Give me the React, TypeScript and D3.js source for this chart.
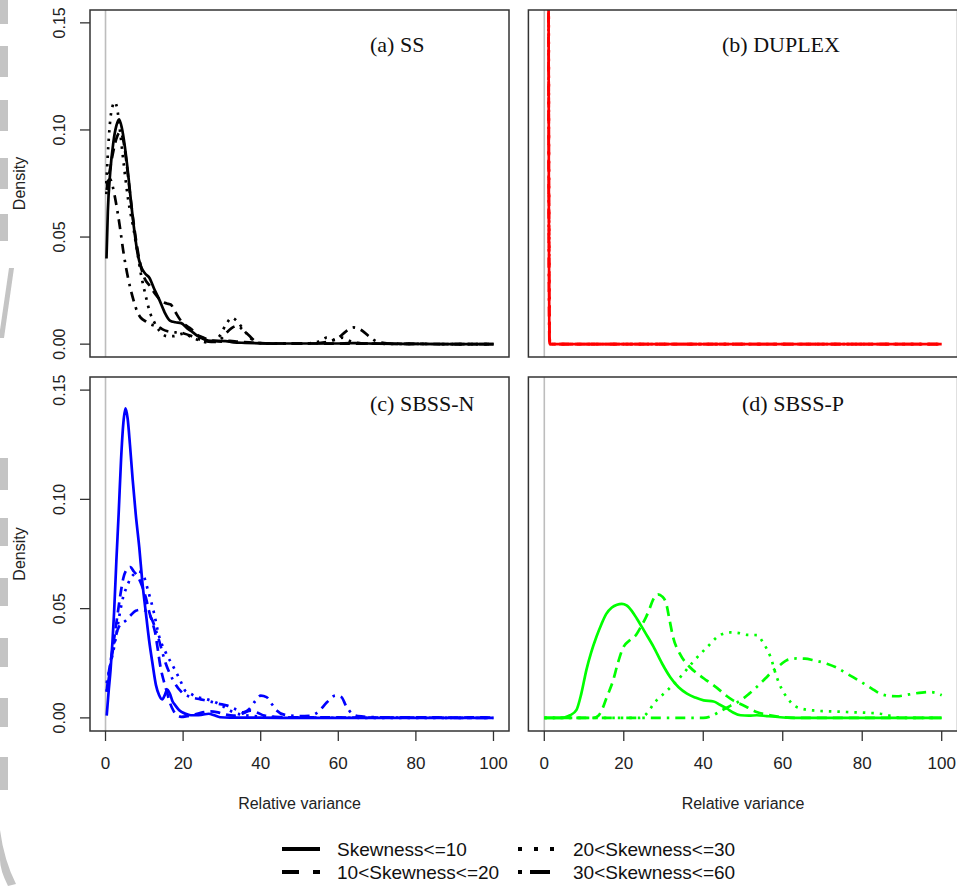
import { useEffect, useRef } from 'react';
import * as d3 from 'd3';

// Density of relative variance, four skewness groups per method

const xTicks = [0, 20, 40, 60, 80, 100];
const yTicks = [0, 0.05, 0.1, 0.15];
const yTickLabels = ['0.00', '0.05', '0.10', '0.15'];
const legendLabels = ['Skewness<=10', '10<Skewness<=20', '20<Skewness<=30', '30<Skewness<=60'];
const panelTitles = ['(a) SS', '(b) DUPLEX', '(c) SBSS-N', '(d) SBSS-P'];
const panelColors = ['#000000', '#ff0000', '#0000ff', '#00ff00'];

// (a) SS
const ssLe10 = [[0.25,0.040],[0.6,0.062],[1.2,0.080],[2,0.094],[2.8,0.102],[3.5,0.105],[4.2,0.101],[5,0.092],[5.8,0.080],[6.6,0.066],[7.5,0.052],[8.3,0.042],[9.2,0.036],[10.2,0.033],[11.3,0.031],[12.5,0.026],[13.8,0.021],[15.2,0.015],[16.6,0.011],[18,0.0102],[19.5,0.0098],[21,0.0075],[22.5,0.0055],[24,0.0035],[25.5,0.0022],[27,0.0015],[29,0.0015],[31,0.0014],[33,0.0008],[36,0.0006],[40,0.0004],[45,0.0003],[50,0.0003],[55,0.0003],[60,0.0003],[63,0.0005],[66,0.0004],[70,0.0002],[80,0.0001],[90,0],[100,0]];
const ss10to20 = [[0.3,0.072],[1,0.080],[2,0.090],[3,0.097],[3.8,0.099],[4.6,0.095],[5.4,0.085],[6.2,0.072],[7,0.060],[8,0.047],[9,0.037],[10,0.031],[11.5,0.027],[13,0.023],[14.5,0.020],[15.8,0.019],[16.8,0.0185],[18,0.015],[19.2,0.0115],[20.5,0.009],[22,0.0072],[23.5,0.0045],[25,0.0032],[26.5,0.002],[28,0.0015],[30,0.0012],[32,0.0015],[34,0.0012],[37,0.0008],[40,0.0005],[45,0.0003],[50,0.0003],[55,0.0003],[60,0.0002],[70,0.0002],[80,0.0001],[100,0]];
const ss20to30 = [[0.2,0.075],[0.7,0.092],[1.3,0.106],[1.8,0.111],[2.4,0.113],[3,0.110],[3.7,0.100],[4.7,0.084],[5.8,0.068],[7.3,0.053],[8.2,0.043],[9,0.034],[10.3,0.023],[11.6,0.014],[12.5,0.0105],[13.3,0.0078],[14.5,0.005],[15.9,0.0037],[17.6,0.0037],[19,0.0045],[20.2,0.005],[21.9,0.0035],[23.5,0.0022],[25,0.0012],[26.5,0.0008],[28,0.0015],[29.5,0.004],[31,0.009],[32.6,0.0123],[34,0.0105],[35.5,0.007],[37,0.0035],[38.5,0.0012],[40,0.0004],[45,0.0002],[50,0.0002],[55,0.0012],[57,0.003],[59,0.002],[61,0.003],[63,0.0015],[66,0.0004],[70,0.0002],[80,0.0001],[100,0]];
const ss30to60 = [[0.2,0.070],[0.6,0.076],[1.2,0.077],[1.8,0.074],[2.6,0.067],[3.6,0.056],[4.7,0.042],[5.8,0.031],[7.3,0.020],[8.2,0.015],[9,0.0125],[10.5,0.0105],[12,0.009],[13.3,0.0085],[14.6,0.007],[16,0.006],[18,0.0055],[20.2,0.005],[22.5,0.0035],[24.5,0.002],[26.5,0.0012],[28,0.001],[29.5,0.002],[31,0.005],[32.5,0.0075],[34,0.0085],[35.5,0.0065],[37,0.004],[38.5,0.0015],[40,0.0005],[45,0.0002],[50,0.0002],[55,0.0005],[58,0.0015],[60,0.003],[62,0.006],[64,0.0078],[66,0.0065],[68,0.0035],[70,0.0012],[73,0.0003],[80,0.0001],[100,0]];

// (b) DUPLEX
const dxLe10 = [[0.8,1.5],[0.95,0.5],[1.05,0.2],[1.15,0.06],[1.25,0.01],[1.35,0],[5,0],[100,0]];
const dx10to20 = [[0.85,1.4],[1.0,0.4],[1.1,0.15],[1.2,0.05],[1.3,0.008],[1.4,0],[5,0],[100,0]];
const dx20to30 = [[0.9,1.3],[1.05,0.35],[1.15,0.12],[1.25,0.04],[1.35,0.005],[1.45,0],[5,0],[100,0]];
const dx30to60 = [[0.75,1.6],[0.9,0.6],[1.0,0.25],[1.1,0.08],[1.2,0.015],[1.3,0],[5,0],[100,0]];

// (c) SBSS-N
const nLe10 = [[0.3,0.001],[0.8,0.012],[1.3,0.022],[1.8,0.035],[2.2,0.048],[2.8,0.072],[3.4,0.094],[4,0.118],[4.6,0.135],[5.15,0.1416],[5.7,0.137],[6.3,0.125],[7,0.109],[7.8,0.093],[8.7,0.078],[9.5,0.062],[10.4,0.048],[11.2,0.036],[12.1,0.025],[13,0.015],[13.8,0.0105],[14.6,0.0085],[15.3,0.0105],[15.9,0.013],[16.6,0.011],[17.3,0.0075],[18,0.0057],[19,0.0035],[20.6,0.0019],[22,0.0012],[23.5,0.0012],[25,0.0015],[26.6,0.0019],[28,0.0012],[29.5,0.0003],[32,0.0001],[40,0.0001],[50,0],[100,0]];
const n10to20 = [[0.3,0.012],[0.8,0.020],[1.5,0.028],[2.2,0.036],[3,0.046],[3.8,0.056],[4.6,0.064],[5.5,0.068],[6.4,0.069],[7.3,0.067],[8.2,0.065],[9.5,0.060],[10.4,0.055],[11.2,0.049],[12,0.044],[12.8,0.039],[13.5,0.031],[14.2,0.023],[15,0.017],[15.8,0.012],[16.5,0.0075],[17.6,0.003],[18.5,0.0012],[19.5,0.0005],[21,0.0008],[23,0.0015],[25,0.0025],[27,0.003],[29,0.0025],[31,0.0015],[33,0.001],[35,0.0018],[37.3,0.0033],[39,0.0025],[41,0.001],[45,0.0004],[50,0.0002],[60,0.0002],[70,0.0001],[82,0.0003],[90,0.0001],[97,0.0003],[100,0]];
const n20to30 = [[0.3,0.016],[1.2,0.024],[2.5,0.035],[3.5,0.046],[4.5,0.055],[5.5,0.060],[6.5,0.064],[7.5,0.066],[8.5,0.067],[9.8,0.065],[11,0.058],[12.5,0.048],[13.7,0.038],[15.5,0.030],[17.6,0.023],[19.3,0.017],[20.5,0.0125],[22,0.011],[23.6,0.0095],[25.5,0.0088],[27,0.0080],[28.5,0.007],[29.6,0.006],[31.5,0.004],[33,0.0025],[35,0.0015],[37.3,0.001],[40,0.0006],[45,0.0003],[50,0.0001],[100,0]];
const n30to60 = [[0.3,0.012],[1,0.020],[1.8,0.030],[2.6,0.037],[3.4,0.0415],[5.2,0.0445],[6.5,0.047],[7.8,0.049],[9,0.0495],[10.4,0.049],[12.1,0.0445],[13.7,0.036],[15.5,0.025],[17.5,0.017],[19.5,0.012],[22,0.0095],[24.5,0.0085],[27,0.0075],[29,0.0065],[31.4,0.0056],[33.5,0.004],[35.5,0.0025],[37,0.004],[38.5,0.0075],[40,0.0102],[41.5,0.0095],[43,0.006],[44.2,0.0033],[46,0.0015],[50,0.0008],[52.8,0.001],[55,0.003],[57,0.007],[59.3,0.0102],[60.8,0.0095],[62,0.0055],[63.5,0.002],[65,0.0008],[70,0.0003],[80,0.0001],[100,0]];

// (d) SBSS-P
const pLe10 = [[0,0],[4,0],[5.2,0.0003],[6.5,0.0012],[8.1,0.0037],[9.3,0.011],[10.6,0.022],[11.8,0.030],[13.1,0.037],[14.4,0.043],[15.6,0.0476],[17,0.0505],[18.3,0.0518],[19.5,0.0522],[20.7,0.0515],[22,0.049],[23.3,0.0454],[25.4,0.039],[27.5,0.0325],[29.6,0.025],[31.7,0.0186],[33.8,0.014],[35.9,0.0111],[38,0.0093],[40.1,0.008],[42.6,0.0075],[44.2,0.006],[46,0.0042],[47.5,0.0025],[49.4,0.0012],[51.5,0.001],[53.5,0.0012],[56,0.0008],[59.4,0.0003],[62,0],[100,0]];
const p10to20 = [[0,0],[12.5,0],[13.6,0.001],[14.7,0.0045],[15.7,0.0094],[17.3,0.017],[18.5,0.025],[19.8,0.032],[21.5,0.0355],[23.1,0.038],[24.4,0.042],[25.6,0.0461],[26.5,0.050],[27.3,0.0538],[28.6,0.0565],[29.7,0.0555],[30.7,0.0522],[31.5,0.045],[32.4,0.037],[34.1,0.0294],[36.6,0.0233],[38.7,0.020],[40.8,0.0172],[42.5,0.015],[44.2,0.0126],[45.9,0.010],[47.5,0.008],[49.2,0.0065],[50.9,0.005],[53.4,0.0027],[56.8,0.0012],[60,0.0003],[63,0],[100,0]];
const p20to30 = [[0,0],[24,0],[24.9,0.0005],[26.2,0.003],[27.5,0.0064],[30.9,0.0125],[34.2,0.0186],[37.6,0.026],[41,0.0324],[44.3,0.038],[46.8,0.0391],[49,0.0388],[51,0.038],[53.5,0.0379],[55.2,0.034],[56.9,0.028],[58.5,0.0186],[59.8,0.013],[61,0.0095],[63.5,0.005],[67.7,0.0034],[76.1,0.0027],[84.5,0.0019],[87,0.001],[88.6,0.0003],[90,0],[100,0]];
const p30to60 = [[0,0],[40,0],[42,0.0008],[44.3,0.0031],[46.8,0.0055],[49.4,0.008],[51.5,0.011],[53.5,0.0142],[55.6,0.018],[57.7,0.0218],[59.4,0.0243],[61,0.0264],[63.5,0.0272],[65.6,0.0271],[67.7,0.0264],[71.1,0.0248],[73.6,0.023],[76.1,0.0203],[78.3,0.018],[80.4,0.0157],[82.4,0.0134],[84.5,0.0111],[86.6,0.0101],[88.7,0.0099],[90.8,0.0104],[92.9,0.0111],[95,0.0116],[97.1,0.0118],[98.6,0.0114],[100,0.0104]];

const panelSeries = [
    [ssLe10, ss10to20, ss20to30, ss30to60],
    [dxLe10, dx10to20, dx20to30, dx30to60],
    [nLe10, n10to20, n20to30, n30to60],
    [pLe10, p10to20, p20to30, p30to60],
];

const dashes = ['none', '10 6', '2.5 6', '2.5 6 10 6'];
const legendDashes = ['none', '17 14', '4 12', '4 8 20 8'];

export default function App() {
    const svgRef = useRef(null);

    useEffect(() => {
        const svg = d3.select(svgRef.current);
        svg.selectAll('*').remove();

        const sans = "'Liberation Sans', Arial, sans-serif";
        const serif = "'Liberation Serif', 'Times New Roman', serif";

        // grey marks along the left edge of the scan
        const edge = [[0, 24], [46, 77], [100, 131], [158, 189], [214, 241], [458, 490], [518, 546], [578, 606], [638, 667], [698, 727], [757, 790]];
        svg.append('g').selectAll('rect').data(edge).join('rect')
            .attr('x', 0).attr('y', d => d[0]).attr('width', 8).attr('height', d => d[1] - d[0])
            .attr('fill', '#c4c4c4');
        svg.append('path').attr('d', 'M14,268 L9,268 L0,330 L0,338 L4,338 Z').attr('fill', '#c4c4c4');
        svg.append('path').attr('d', 'M0,830 Q4,860 16,884 L8,886 Q0,870 0,860 Z').attr('fill', '#c4c4c4');

        const frames = [
            { left: 90, right: 509, top: 10, bottom: 357, titleX: 370, titleY: 52, yAxis: true, xAxis: false },
            { left: 528.4, right: 957.6, top: 10, bottom: 357, titleX: 722, titleY: 52, yAxis: false, xAxis: false },
            { left: 90, right: 509, top: 377, bottom: 731, titleX: 370, titleY: 411, yAxis: true, xAxis: true },
            { left: 528.4, right: 957.6, top: 377, bottom: 731, titleX: 742, titleY: 411, yAxis: false, xAxis: true },
        ];

        frames.forEach((f, i) => {
            const x = d3.scaleLinear().domain([-4, 104]).range([f.left, f.right]);
            const y = d3.scaleLinear().domain([-0.006, 0.156]).range([f.bottom, f.top]);
            const g = svg.append('g');

            const clipId = 'clip' + i;
            svg.append('defs').append('clipPath').attr('id', clipId)
                .append('rect')
                .attr('x', f.left).attr('y', f.top)
                .attr('width', f.right - f.left).attr('height', f.bottom - f.top);

            // abline at zero
            g.append('line')
                .attr('x1', x(0)).attr('x2', x(0))
                .attr('y1', f.top).attr('y2', f.bottom)
                .attr('stroke', '#bdbdbd').attr('stroke-width', 1.6);

            const line = d3.line()
                .x(d => x(d[0]))
                .y(d => y(d[1]))
                .curve(d3.curveMonotoneX);

            const curves = g.append('g').attr('clip-path', `url(#${clipId})`);
            panelSeries[i].forEach((s, k) => {
                curves.append('path')
                    .datum(s)
                    .attr('fill', 'none')
                    .attr('stroke', panelColors[i])
                    .attr('stroke-width', 2.7)
                    .attr('stroke-dasharray', dashes[k])
                    .attr('d', line);
            });

            g.append('rect')
                .attr('x', f.left).attr('y', f.top)
                .attr('width', f.right - f.left).attr('height', f.bottom - f.top)
                .attr('fill', 'none').attr('stroke', '#333').attr('stroke-width', 1.5);

            g.append('text')
                .attr('x', f.titleX).attr('y', f.titleY)
                .attr('font-family', serif).attr('font-size', 22)
                .attr('fill', '#111')
                .text(panelTitles[i]);

            if (f.yAxis) {
                yTicks.forEach((t, j) => {
                    g.append('line')
                        .attr('x1', f.left).attr('x2', f.left - 10)
                        .attr('y1', y(t)).attr('y2', y(t))
                        .attr('stroke', '#333').attr('stroke-width', 1.3);
                    g.append('text')
                        .attr('transform', `translate(65,${y(t)}) rotate(-90)`)
                        .attr('text-anchor', 'middle')
                        .attr('font-family', sans).attr('font-size', 16)
                        .attr('fill', '#222')
                        .text(yTickLabels[j]);
                });
                g.append('text')
                    .attr('transform', `translate(25,${(f.top + f.bottom) / 2}) rotate(-90)`)
                    .attr('text-anchor', 'middle')
                    .attr('font-family', sans).attr('font-size', 16)
                    .attr('fill', '#222')
                    .text('Density');
            }

            if (f.xAxis) {
                xTicks.forEach(t => {
                    g.append('line')
                        .attr('x1', x(t)).attr('x2', x(t))
                        .attr('y1', f.bottom).attr('y2', f.bottom + 10)
                        .attr('stroke', '#333').attr('stroke-width', 1.3);
                    g.append('text')
                        .attr('x', x(t)).attr('y', 769)
                        .attr('text-anchor', 'middle')
                        .attr('font-family', sans).attr('font-size', 17)
                        .attr('fill', '#222')
                        .text(t);
                });
                g.append('text')
                    .attr('x', (f.left + f.right) / 2).attr('y', 809)
                    .attr('text-anchor', 'middle')
                    .attr('font-family', sans).attr('font-size', 16)
                    .attr('fill', '#222')
                    .text('Relative variance');
            }
        });

        // Legend, two columns
        const legend = svg.append('g');
        const legendPos = [[282, 849], [282, 872], [518, 849], [518, 872]];
        legendLabels.forEach((lab, k) => {
            const [lx, ly] = legendPos[k];
            legend.append('line')
                .attr('x1', lx).attr('x2', lx + 38)
                .attr('y1', ly).attr('y2', ly)
                .attr('stroke', '#000').attr('stroke-width', 4)
                .attr('stroke-dasharray', legendDashes[k]);
            legend.append('text')
                .attr('x', lx + 55).attr('y', ly + 7)
                .attr('font-family', sans).attr('font-size', 19)
                .attr('fill', '#111')
                .text(lab);
        });
    }, []);

    return (
        <div style={{ position: 'absolute', left: 0, top: 0 }}>
            <svg ref={svgRef} width={957} height={893} style={{ display: 'block', background: '#fff' }}></svg>
        </div>
    );
}
